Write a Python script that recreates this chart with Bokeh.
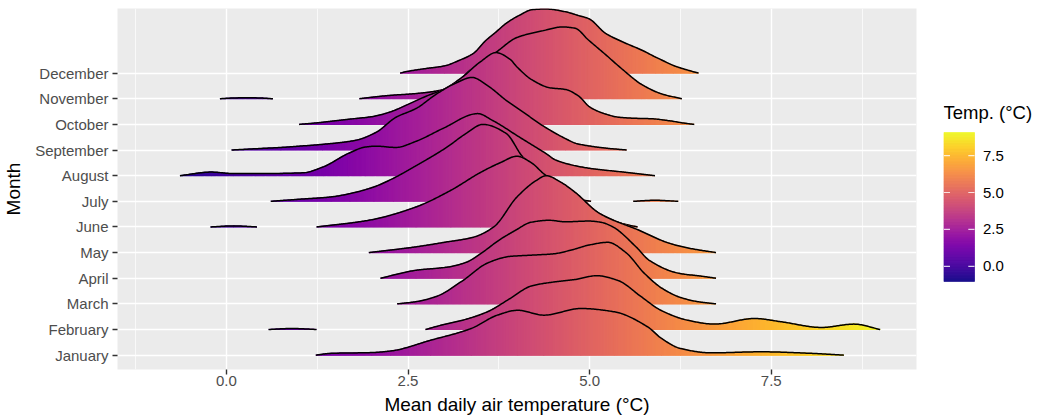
import numpy as np
from bokeh.plotting import figure
from bokeh.layouts import row
from bokeh.models import FixedTicker, NumeralTickFormatter, Range1d
from bokeh.core.properties import value
from bokeh.palettes import Plasma256
from bokeh.embed import file_html
from bokeh.resources import INLINE

months = ["January", "February", "March", "April", "May", "June", "July",
          "August", "September", "October", "November", "December"]

# ---- ridge readings: temperature (degC) and ridge height (in row units) ----
jan_x = [1.23, 1.44, 2.0, 2.26, 2.81, 3.37, 3.73, 4.01, 4.37, 4.88, 5.34, 5.8, 5.99, 6.25, 6.67, 7.36, 8.05, 8.5]
jan_h = [0, 0.07, 0.1, 0.16, 0.58, 1.04, 1.56, 1.75, 1.56, 1.82, 1.69, 1.1, 0.65, 0.26, 0.09, 0.13, 0.07, 0]

feb_x = [2.74, 3.0, 3.3, 3.6, 3.9, 4.2, 4.5, 4.8, 5.1, 5.4, 5.7, 5.98, 6.35, 6.72, 7.27, 7.64, 8.19, 8.64, 9.0]
feb_h = [0, 0.2, 0.4, 0.7, 1.2, 1.7, 1.85, 1.95, 2.1, 1.9, 1.3, 0.75, 0.36, 0.21, 0.43, 0.30, 0.08, 0.21, 0]
feb2_x = [0.58, 0.9, 1.24]
feb2_h = [0, 0.04, 0]

mar_x = [2.35, 2.6, 2.9, 3.25, 3.6, 3.9, 4.2, 4.5, 4.75, 5.0, 5.25, 5.5, 5.75, 6.0, 6.25, 6.5, 6.74]
mar_h = [0, 0.08, 0.3, 0.9, 1.6, 1.85, 1.9, 1.95, 2.1, 2.3, 2.4, 2.0, 1.2, 0.6, 0.25, 0.08, 0]

apr_x = [2.12, 2.61, 3.06, 3.3, 3.53, 3.75, 3.98, 4.19, 4.44, 4.67, 4.99, 5.16, 5.32, 5.64, 5.82, 6.23, 6.54, 6.74]
apr_h = [0, 0.31, 0.44, 0.62, 1.02, 1.48, 1.87, 2.18, 2.26, 2.2, 2.23, 2.18, 2.0, 1.22, 0.7, 0.19, 0.08, 0]

may_x = [1.96, 2.6, 3.0, 3.4, 3.68, 4.0, 4.27, 4.4, 4.6, 4.8, 5.13, 5.68, 6.09, 6.37, 6.74]
may_h = [0, 0.22, 0.4, 0.6, 1.0, 2.17, 2.82, 3.0, 2.75, 2.35, 1.54, 0.87, 0.37, 0.17, 0]

jun_x = [1.24, 1.96, 2.61, 3.09, 3.5, 3.78, 4.0, 4.19, 4.4, 4.54, 4.81, 5.13, 5.45, 5.66]
jun_h = [0, 0.26, 0.78, 1.43, 2.13, 2.52, 2.76, 2.52, 2.01, 1.82, 1.31, 0.53, 0.13, 0]
jun2_x = [-0.22, 0.1, 0.42]
jun2_h = [0, 0.04, 0]

jul_x = [0.61, 1.0, 1.44, 1.7, 2.03, 2.3, 2.58, 3.04, 3.3, 3.53, 3.85, 4.08, 4.35, 4.6, 4.81, 5.02]
jul_h = [0, 0.08, 0.17, 0.3, 0.56, 0.9, 1.34, 2.12, 2.65, 3.0, 2.65, 1.73, 1.08, 0.5, 0.1, 0]
jul2_x = [5.6, 5.9, 6.22]
jul2_h = [0, 0.04, 0]

aug_x = [-0.64, -0.21, 0.1, 0.4, 1.05, 1.33, 1.68, 1.92, 2.06, 2.33, 2.61, 2.98, 3.46, 3.66, 4.03, 4.4, 4.54, 4.99, 5.43, 5.9]
aug_h = [0, 0.14, 0.08, 0.08, 0.11, 0.34, 0.87, 1.12, 1.15, 1.1, 1.34, 1.84, 2.42, 2.16, 1.51, 0.86, 0.6, 0.29, 0.15, 0]

sep_x = [0.07, 0.4, 0.75, 1.0, 1.32, 1.78, 2.06, 2.33, 2.61, 2.9, 3.15, 3.38, 3.6, 3.85, 4.1, 4.31, 4.5, 4.67, 4.81, 4.99, 5.2, 5.51]
sep_h = [0, 0.05, 0.1, 0.15, 0.22, 0.38, 0.69, 1.27, 1.62, 2.2, 2.6, 2.83, 2.5, 1.94, 1.45, 1.03, 0.7, 0.44, 0.26, 0.16, 0.08, 0]

oct_x = [1.0, 1.25, 1.5, 1.75, 2.0, 2.25, 2.5, 2.75, 3.0, 3.25, 3.5, 3.71, 3.9, 4.0, 4.2, 4.45, 4.67, 4.85, 5.0, 5.2, 5.4, 5.6, 5.85, 6.1, 6.3, 6.44]
oct_h = [0, 0.06, 0.14, 0.22, 0.3, 0.48, 0.78, 1.1, 1.38, 1.85, 2.45, 2.8, 2.55, 2.24, 1.75, 1.43, 1.36, 1.1, 0.68, 0.42, 0.28, 0.24, 0.22, 0.14, 0.05, 0]

nov_x = [1.83, 2.0, 2.25, 2.6, 3.05, 3.37, 3.71, 4.0, 4.37, 4.62, 4.8, 4.98, 5.22, 5.45, 5.72, 6.0, 6.27]
nov_h = [0, 0.06, 0.13, 0.2, 0.4, 1.15, 1.81, 2.39, 2.66, 2.8, 2.75, 2.3, 1.72, 1.15, 0.55, 0.18, 0]
nov2_x = [-0.09, 0.1, 0.3, 0.5, 0.64]
nov2_h = [0, 0.03, 0.04, 0.025, 0]

dec_x = [2.39, 2.5, 2.75, 3.0, 3.2, 3.4, 3.57, 3.71, 3.85, 4.03, 4.22, 4.4, 4.67, 4.84, 4.99, 5.22, 5.46, 5.73, 5.91, 6.0, 6.15, 6.37, 6.5]
dec_h = [0, 0.07, 0.18, 0.28, 0.49, 0.77, 1.27, 1.60, 1.94, 2.25, 2.48, 2.50, 2.39, 2.25, 2.12, 1.55, 1.21, 0.88, 0.62, 0.50, 0.30, 0.10, 0]

x_ticks = [0, 2.5, 5, 7.5]
x_minor = [-1.25, 1.25, 3.75, 6.25, 8.75]
temp_low, temp_high = -1.02, 9.06
legend_title = "Temp. (°C)"

ridges = {
    "January": [(jan_x, jan_h)],
    "February": [(feb_x, feb_h), (feb2_x, feb2_h)],
    "March": [(mar_x, mar_h)],
    "April": [(apr_x, apr_h)],
    "May": [(may_x, may_h)],
    "June": [(jun_x, jun_h), (jun2_x, jun2_h)],
    "July": [(jul_x, jul_h), (jul2_x, jul2_h)],
    "August": [(aug_x, aug_h)],
    "September": [(sep_x, sep_h)],
    "October": [(oct_x, oct_h)],
    "November": [(nov_x, nov_h), (nov2_x, nov2_h)],
    "December": [(dec_x, dec_h)],
}

FONT = "Liberation Sans"
TOP, BOTTOM = 8, 51
H = 420


def plasma(v):
    t = (np.asarray(v) - temp_low) / (temp_high - temp_low)
    idx = np.clip((t * 255).round().astype(int), 0, 255)
    return [Plasma256[i] for i in idx]


def smooth_curve(x, y, xn):
    """Monotone (shape-preserving) cubic through the read points, for drawing."""
    x = np.asarray(x, float)
    y = np.asarray(y, float)
    n = len(x)
    if n < 3:
        return np.interp(xn, x, y)
    h = np.diff(x)
    d = np.diff(y) / h
    m = np.zeros(n)
    for k in range(1, n - 1):
        if d[k - 1] * d[k] > 0:
            w1 = 2 * h[k] + h[k - 1]
            w2 = h[k] + 2 * h[k - 1]
            m[k] = (w1 + w2) / (w1 / d[k - 1] + w2 / d[k])
    m[0] = d[0]
    m[-1] = d[-1]
    idx = np.clip(np.searchsorted(x, xn) - 1, 0, n - 2)
    t = (xn - x[idx]) / h[idx]
    h00 = 2 * t**3 - 3 * t**2 + 1
    h10 = t**3 - 2 * t**2 + t
    h01 = -2 * t**3 + 3 * t**2
    h11 = t**3 - t**2
    out = h00 * y[idx] + h10 * h[idx] * m[idx] + h01 * y[idx + 1] + h11 * h[idx] * m[idx + 1]
    return np.clip(out, 0, None)


p = figure(width=920, height=H, x_range=Range1d(-1.5, 9.5), y_range=Range1d(0.44, 14.52),
           output_backend="svg", toolbar_location=None,
           min_border_left=117, min_border_right=4, min_border_top=TOP, min_border_bottom=BOTTOM)
p.background_fill_color = "#EBEBEB"
p.border_fill_color = "white"
p.outline_line_color = None

# grid
p.xgrid.grid_line_color = "white"
p.xgrid.grid_line_width = 1.4
p.xgrid.minor_grid_line_color = "white"
p.xgrid.minor_grid_line_width = 0.7
p.ygrid.grid_line_color = "white"
p.ygrid.grid_line_width = 1.4

# axes
p.xaxis.ticker = FixedTicker(ticks=x_ticks, minor_ticks=x_minor)
p.xaxis.formatter = NumeralTickFormatter(format="0.0")
p.yaxis.ticker = FixedTicker(ticks=list(range(1, 13)))
p.yaxis.major_label_overrides = {i + 1: m for i, m in enumerate(months)}
p.xaxis.axis_label = "Mean daily air temperature (°C)"
p.yaxis.axis_label = "Month"
for ax in (p.xaxis[0], p.yaxis[0]):
    ax.axis_line_color = None
    ax.major_tick_line_color = "#333333"
    ax.major_tick_line_width = 1.4
    ax.major_tick_out = 5
    ax.major_tick_in = 0
    ax.minor_tick_line_color = None
    ax.major_label_text_font = FONT
    ax.major_label_text_font_size = "15px"
    ax.major_label_text_color = "#4D4D4D"
    ax.axis_label_text_font = FONT
    ax.axis_label_text_font_size = "19px"
    ax.axis_label_text_font_style = "normal"
    ax.axis_label_text_color = "black"
p.xaxis.major_label_standoff = 1
p.xaxis.axis_label_standoff = 5
p.yaxis.major_label_standoff = 4
p.yaxis.axis_label_standoff = 8

# ridges: top row first, lower rows drawn over them
step = 0.015
for mi in range(11, -1, -1):
    name = months[mi]
    base = mi + 1
    for xs, hs in ridges[name]:
        xs = np.asarray(xs, float)
        hs = np.asarray(hs, float)
        fx = np.arange(xs[0], xs[-1], step)
        fx = np.unique(np.concatenate([fx, xs]))
        fh = smooth_curve(xs, hs, fx)
        px, py = [], []
        for i in range(len(fx) - 1):
            px.append([fx[i], fx[i], fx[i + 1], fx[i + 1]])
            py.append([base, base + fh[i], base + fh[i + 1], base])
        cols = plasma((fx[:-1] + fx[1:]) / 2)
        p.patches(px, py, fill_color=cols, line_color=cols, line_width=1.1)
        p.line(fx, base + fh, line_color="black", line_width=1.5, line_join="round")

# ---- colour bar legend (its own small figure, frame aligned with the main one) ----
LW = 1038 - 920
bar_px_top, bar_px_bot = 132, 281          # page pixels of the bar ends
frame_h = H - TOP - BOTTOM
ppu = (bar_px_bot - bar_px_top) / (temp_high - temp_low)
y_hi = temp_high + (bar_px_top - TOP) / ppu
y_lo = temp_low - (TOP + frame_h - bar_px_bot) / ppu

lg = figure(width=LW, height=H, x_range=Range1d(0, LW - 23), y_range=Range1d(y_lo, y_hi),
            output_backend="svg", toolbar_location=None, x_axis_type=None, y_axis_type=None,
            min_border_left=23, min_border_right=0, min_border_top=TOP, min_border_bottom=BOTTOM)
lg.outline_line_color = None
lg.background_fill_color = "white"
lg.border_fill_color = "white"

edges = np.linspace(temp_low, temp_high, 201)
bc = plasma((edges[:-1] + edges[1:]) / 2)
lg.quad(left=0.3, right=31, bottom=edges[:-1], top=edges[1:], fill_color=bc, line_color=bc, line_width=0.5)
lg.segment(x0=[0.3] * 4, x1=[6.5] * 4, y0=x_ticks, y1=x_ticks, line_color="white", line_width=1.2, line_alpha=0.8)
lg.segment(x0=[24.8] * 4, x1=[31] * 4, y0=x_ticks, y1=x_ticks, line_color="white", line_width=1.2, line_alpha=0.8)
lg.text(x=[39.5] * 4, y=x_ticks, text=["%.1f" % t for t in x_ticks],
        text_font=value(FONT), text_font_size="15px", text_color="black",
        text_align="left", text_baseline="middle")
lg.text(x=[0], y=[temp_high + (bar_px_top - 112) / ppu], text=[legend_title],
        text_font=value(FONT), text_font_size="18.5px", text_color="black",
        text_align="left", text_baseline="middle")

layout = row(p, lg, spacing=0)
open("out.html", "w").write(file_html(layout, INLINE))
